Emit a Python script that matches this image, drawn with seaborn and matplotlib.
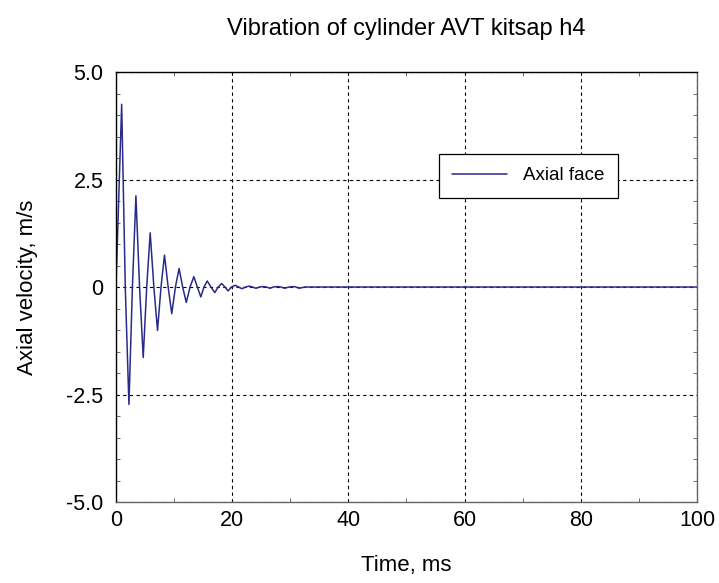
import numpy as np
import pandas as pd
import seaborn as sns
import matplotlib.pyplot as plt
from matplotlib.ticker import MultipleLocator

# values (peaks, troughs and zero crossings)
time_ms = [0.0, 0.98, 1.6, 2.23, 2.83, 3.43, 4.06, 4.69, 5.29, 5.89, 6.52, 7.15,
           7.75, 8.35, 8.98, 9.6, 10.23, 10.86, 11.48, 12.1, 12.75, 13.4, 14.0,
           14.6, 15.15, 15.7, 16.35, 17.0, 17.6, 18.2, 18.75, 19.3, 19.9, 20.5,
           21.1, 21.7, 22.3, 22.9, 23.5, 24.1, 24.7, 25.3, 25.9, 26.5, 27.1,
           27.7, 28.4, 29.0, 29.8, 30.5, 31.0, 31.5, 32.5, 100.0]
axial_velocity = [0.0, 4.25, 0.0, -2.73, 0.0, 2.12, 0.0, -1.64, 0.0, 1.26, 0.0, -1.01,
                  0.0, 0.74, 0.0, -0.62, 0.0, 0.43, 0.0, -0.36, 0.0, 0.24, 0.0,
                  -0.23, 0.0, 0.14, 0.0, -0.13, 0.0, 0.08, 0.0, -0.09, 0.0, 0.04,
                  0.0, -0.04, 0.0, 0.02, 0.0, -0.03, 0.0, 0.01, 0.0, -0.03, 0.0,
                  0.01, 0.0, -0.03, 0.0, 0.01, 0.0, -0.03, 0.0, 0.0]

x_ticks = [0, 20, 40, 60, 80, 100]
y_ticks = [-5.0, -2.5, 0.0, 2.5, 5.0]
y_tick_labels = ["-5.0", "-2.5", "0", "2.5", "5.0"]

sns.set_style("ticks")
plt.rcParams["font.family"] = ["Liberation Sans", "DejaVu Sans"]
plt.rcParams["text.color"] = "black"
plt.rcParams["axes.labelcolor"] = "black"
plt.rcParams["xtick.labelcolor"] = "black"
plt.rcParams["ytick.labelcolor"] = "black"

df = pd.DataFrame({"Time": time_ms, "Velocity": axial_velocity})

fig = plt.figure(figsize=(7.19, 5.83), dpi=100)
ax = fig.add_axes([0.1613, 0.1389, 0.8081, 0.7376])

sns.lineplot(data=df, x="Time", y="Velocity", ax=ax, sort=False, estimator=None,
             color="#2a2a8a", linewidth=1.1, label="Axial face")

ax.set_xlim(0, 100)
ax.set_ylim(-5, 5)
ax.set_xticks(x_ticks)
ax.set_yticks(y_ticks)
ax.set_yticklabels(y_tick_labels)
ax.xaxis.set_minor_locator(MultipleLocator(10))
ax.yaxis.set_minor_locator(MultipleLocator(0.5))
ax.tick_params(which="both", direction="in", top=True, right=True, color="#555555",
               labelcolor="black")
ax.tick_params(which="major", length=0, labelsize=15.5)
ax.tick_params(axis="x", which="major", pad=6)
ax.tick_params(axis="y", which="major", pad=9)
ax.tick_params(which="minor", length=3)

ax.grid(True, which="major", linestyle=(0, (3, 3)), color="black", linewidth=0.8)

for side in ["top", "left"]:
    ax.spines[side].set_color("black")
for side in ["right", "bottom"]:
    ax.spines[side].set_color("#666666")
for sp in ax.spines.values():
    sp.set_linewidth(1.0)

ax.set_xlabel("Time, ms", fontsize=16, labelpad=17, color="black")
ax.set_ylabel("Axial velocity, m/s", fontsize=16, labelpad=20, color="black")
ax.set_title("Vibration of cylinder AVT kitsap h4", fontsize=17, pad=27, color="black")

leg = ax.legend(loc="upper left", bbox_to_anchor=(0.556, 0.809), fontsize=13.5,
                frameon=True, fancybox=False, framealpha=1, edgecolor="black",
                handlelength=2.9, borderpad=0.7, borderaxespad=0,
                handletextpad=0.9)
leg.get_frame().set_linewidth(0.9)
for txt in leg.get_texts():
    txt.set_color("black")

fig.savefig("out.png", dpi=100)
plt.close(fig)
